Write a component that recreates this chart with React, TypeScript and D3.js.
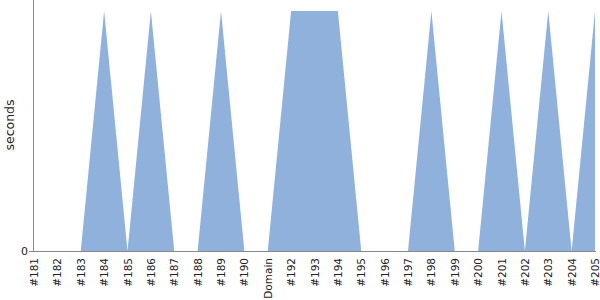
import React from "react";
import * as d3 from "d3";

const categories = ["#181","#182","#183","#184","#185","#186","#187","#188","#189","#190","Domain","#192","#193","#194","#195","#196","#197","#198","#199","#200","#201","#202","#203","#204","#205"];
const values = [0,0,0,1,0,1,0,0,1,0,0,1,1,1,0,0,0,1,0,0,1,0,1,0,1];
const yTicks = [0];

export default function App() {
  const W = 600, H = 300;
  const left = 34, right = 595, bottom = 251, top = 11;
  const x = d3.scalePoint<string>().domain(categories).range([left, right]);
  const y = d3.scaleLinear().domain([0, 1]).range([bottom, top]);
  const area = d3.area<number>()
    .x((_, i) => x(categories[i]) as number)
    .y0(y(0))
    .y1((d) => y(d));
  const font = "DejaVu Sans, sans-serif";
  return (
    <svg width={W} height={H} style={{ position: "absolute", left: 0, top: 0 }}>
      <path d={area(values) || ""} fill="#8fb1dc" />
      <line x1={33.5} x2={33.5} y1={0} y2={bottom + 0.5} stroke="#888" />
      <line x1={33} x2={right + 1} y1={bottom + 0.5} y2={bottom + 0.5} stroke="#888" />
      {yTicks.map((t) => (
        <g key={t}>
          <line x1={29} x2={33} y1={y(t) + 0.5} y2={y(t) + 0.5} stroke="#888" />
          <text x={28} y={y(t)} dy="0.35em" textAnchor="end" fontSize={11} fontFamily={font} fill="#222">{t}</text>
        </g>
      ))}
      {categories.map((c) => (
        <text key={c} transform={`translate(${(x(c) as number) + 4},258) rotate(-90)`} textAnchor="end" fontSize={10.5} fontFamily={font} fill="#222">{c}</text>
      ))}
      <text transform="translate(14,125) rotate(-90)" textAnchor="middle" fontSize={12.5} fontFamily={font} fill="#222">seconds</text>
    </svg>
  );
}
